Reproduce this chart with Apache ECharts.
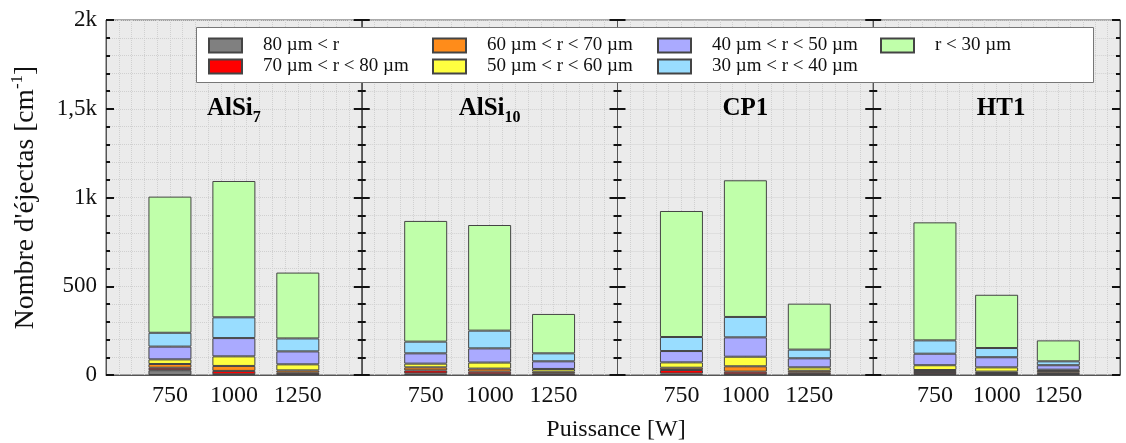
<!DOCTYPE html>
<html>
<head>
<meta charset="utf-8">
<script src="https://cdn.jsdelivr.net/npm/echarts@6/dist/echarts.min.js"></script>
<style>html,body{margin:0;padding:0;background:#fff}#c{width:1126px;height:443px}</style>
</head>
<body>
<div id="c"></div>
<script>
// ---------- data ----------
const powers = ['750', '1000', '1250'];
const panelNames = ['AlSi7', 'AlSi10', 'CP1', 'HT1'];
const panelTitles = ['{b|AlSi}{s|7}', '{b|AlSi}{s|10}', '{b|CP1}', '{b|HT1}'];
const yTickLabels = ['0', '500', '1k', '1,5k', '2k'];
const sizeClasses = ['80 µm < r', '70 µm < r < 80 µm', '60 µm < r < 70 µm', '50 µm < r < 60 µm',
                     '40 µm < r < 50 µm', '30 µm < r < 40 µm', 'r < 30 µm'];
const classColors = ['#808080', '#ff0000', '#ff8c1a', '#ffff40', '#aaaaff', '#99ddff', '#c0ffaa'];
// values per panel (AlSi7, AlSi10, CP1, HT1), each [750 W, 1000 W, 1250 W]
const rAbove80 = [[27, 4, 4], [9, 4, 2], [8, 4, 4], [6, 4, 6]];
const r70to80  = [[14, 19, 9], [17, 15, 7], [20, 15, 9], [11, 7, 7]];
const r60to70  = [[21, 28, 13], [17, 17, 10], [13, 30, 11], [11, 8, 10]];
const r50to60  = [[26, 54, 34], [21, 34, 15], [30, 54, 19], [27, 24, 7]];
const r40to50  = [[72, 103, 73], [58, 80, 43], [64, 109, 51], [65, 57, 25]];
const r30to40  = [[78, 117, 73], [66, 100, 45], [79, 115, 49], [75, 52, 22]];
const rBelow30 = [[767, 768, 371], [680, 595, 222], [710, 770, 259], [665, 300, 118]];
const classValues = [rAbove80, r70to80, r60to70, r50to60, r40to50, r30to40, rBelow30];

// ---------- layout / style ----------
const FONT = '"Liberation Serif", "Times New Roman", serif';
const gLeft = 106, gW = 255.75, gTop = 20, gBottom = 68;
const gridLine = {show: true, lineStyle: {color: '#d0d0d0', type: 'dotted', width: 1}};
const tickMajor = {show: true, inside: true, length: 8, lineStyle: {color: '#111', width: 2}};
const tickMinor = {show: true, splitNumber: 5, length: 4, lineStyle: {color: '#111', width: 2}};

const grid = [], xAxis = [], yAxis = [], series = [], graphic = [];

panelNames.forEach((p, i) => {
  grid.push({left: gLeft + i * gW, width: gW, top: gTop, bottom: gBottom, show: true,
             backgroundColor: '#ebebeb', borderColor: '#555', borderWidth: 1});
  xAxis.push({type: 'category', gridIndex: i, data: ['', ...powers, ' '], boundaryGap: false,
              position: 'bottom',
              axisLine: {show: true, lineStyle: {color: '#555'}}, axisTick: {show: false},
              axisLabel: {interval: 0, fontFamily: FONT, fontSize: 24, color: '#111', margin: 9},
              splitLine: {show: false}});
  xAxis.push({type: 'value', gridIndex: i, position: 'top', min: 0, max: 4, interval: 0.2,
              axisLine: {show: false}, axisTick: {show: false}, axisLabel: {show: false},
              splitLine: gridLine});
  yAxis.push({type: 'value', gridIndex: i, position: 'left', min: 0, max: 2000, interval: 500,
              axisLine: {show: true, lineStyle: {color: '#555'}},
              axisTick: tickMajor, minorTick: tickMinor,
              axisLabel: i === 0 ? {fontFamily: FONT, fontSize: 23, color: '#111', margin: 9,
                                    formatter: v => yTickLabels[Math.round(v / 500)]} : {show: false},
              splitLine: gridLine, minorSplitLine: gridLine,
              name: i === 0 ? "{a|Nombre d'éjectas [cm}{s|-1}{a|]}" : '',
              nameLocation: 'middle', nameRotate: 90, nameGap: 66,
              nameTextStyle: {fontFamily: FONT, color: '#111',
                rich: {a: {fontFamily: FONT, fontSize: 27.5, lineHeight: 31, verticalAlign: 'bottom', color: '#111'},
                       s: {fontFamily: FONT, fontSize: 17, lineHeight: 17, verticalAlign: 'top', color: '#111'}}}});
  yAxis.push({type: 'value', gridIndex: i, position: 'right', min: 0, max: 2000, interval: 500,
              axisLine: {show: true, lineStyle: {color: '#555'}},
              axisTick: tickMajor, minorTick: tickMinor,
              axisLabel: {show: false}, splitLine: {show: false}});

  sizeClasses.forEach((name, k) => {
    series.push({
      name: name, type: 'bar', xAxisIndex: 2 * i, yAxisIndex: 2 * i, stack: 'panel' + i,
      barWidth: 43,
      itemStyle: {color: classColors[k], borderColor: '#444', borderWidth: 1},
      emphasis: {disabled: true},
      data: powers.map((pw, j) => [pw, classValues[k][i][j]])
    });
  });

  graphic.push({type: 'text', x: gLeft + i * gW + gW / 2, y: 96, z: 10,
    style: {text: panelTitles[i], align: 'center', verticalAlign: 'top', fill: '#000',
      rich: {b: {fontFamily: FONT, fontSize: 25, fontWeight: 'bold', lineHeight: 30, verticalAlign: 'top', fill: '#000'},
             s: {fontFamily: FONT, fontSize: 16, fontWeight: 'bold', lineHeight: 16, verticalAlign: 'bottom', fill: '#000'}}}});
});

// legend box
graphic.push({type: 'rect', left: 196, top: 27, z: 10,
  shape: {width: 897, height: 55}, style: {fill: '#fff', stroke: '#777', lineWidth: 1}});
// x axis title
graphic.push({type: 'text', x: 616, y: 430, z: 10,
  style: {text: 'Puissance [W]', align: 'center', verticalAlign: 'middle',
          fontFamily: FONT, fontSize: 24, fill: '#111'}});

const legendCols = [[0, 1], [2, 3], [4, 5], [6]];
const legendLefts = [208, 432, 657, 880];
const legend = legendCols.map((col, c) => ({
  left: legendLefts[c], top: 36, orient: 'vertical', z: 20, padding: 0,
  itemWidth: 33, itemHeight: 14, itemGap: 2, icon: 'rect',
  data: col.map(k => sizeClasses[k]),
  formatter: '{sp|}{name}',
  textStyle: {fontFamily: FONT, fontSize: 19, color: '#111',
              rich: {sp: {width: 16}}}
}));

const chart = echarts.init(document.getElementById('c'), null, {renderer: 'canvas', width: 1126, height: 443});
chart.setOption({
  animation: false,
  backgroundColor: '#fff',
  textStyle: {fontFamily: FONT},
  grid, xAxis, yAxis, series, legend, graphic
});
</script>
</body>
</html>
